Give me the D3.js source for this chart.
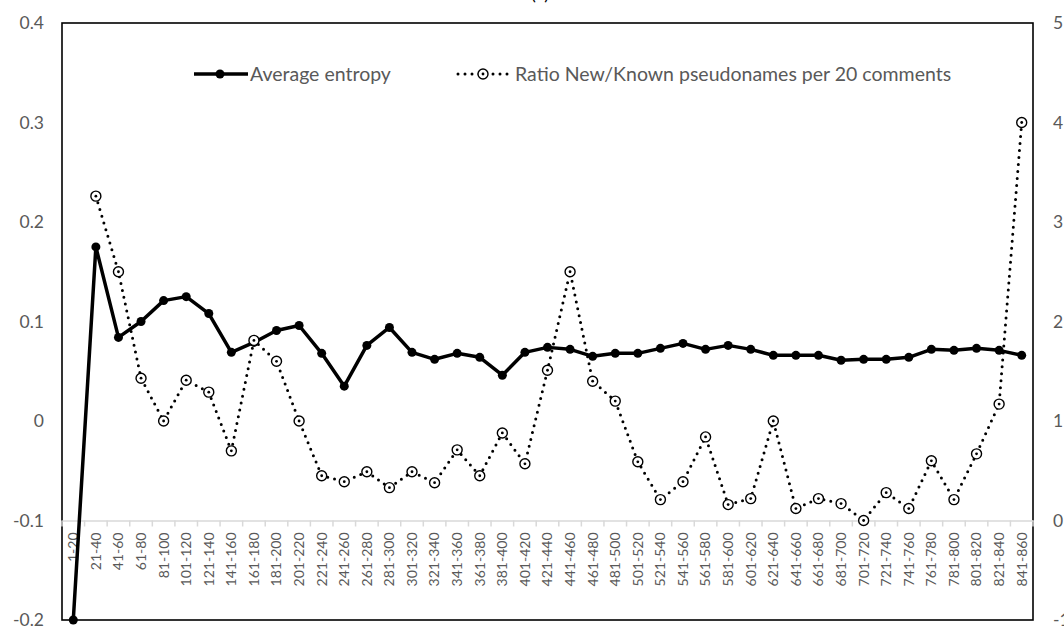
<!DOCTYPE html>
<html><head><meta charset="utf-8">
<script src="https://cdn.jsdelivr.net/npm/d3@7"></script>
<style>
html,body{margin:0;padding:0;background:#fff;}
svg{display:block;font-family:Lato,"Open Sans",sans-serif;}
</style></head>
<body>
<svg id="chart" width="1064" height="633"></svg>
<script>
const categories = ["1-20","21-40","41-60","61-80","81-100","101-120","121-140","141-160","161-180","181-200",
"201-220","221-240","241-260","261-280","281-300","301-320","321-340","341-360","361-380","381-400",
"401-420","421-440","441-460","461-480","481-500","501-520","521-540","541-560","561-580","581-600",
"601-620","621-640","641-660","661-680","681-700","701-720","721-740","741-760","761-780","781-800",
"801-820","821-840","841-860"];
const entropy = [-0.2,0.175,0.084,0.100,0.121,0.125,0.108,0.069,0.079,0.091,
0.096,0.068,0.035,0.076,0.094,0.069,0.062,0.068,0.064,0.046,
0.069,0.074,0.072,0.065,0.068,0.068,0.073,0.078,0.072,0.076,
0.072,0.066,0.066,0.066,0.061,0.062,0.062,0.064,0.072,0.071,
0.073,0.071,0.066];
const ratio = [null,3.26,2.50,1.43,1.00,1.41,1.29,0.70,1.81,1.60,
1.00,0.45,0.39,0.49,0.33,0.49,0.38,0.71,0.45,0.88,
0.57,1.51,2.50,1.40,1.20,0.59,0.21,0.39,0.84,0.16,
0.22,1.00,0.12,0.22,0.17,0.00,0.28,0.12,0.60,0.21,
0.67,1.17,4.00];
const leftTicks = [-0.2,-0.1,0,0.1,0.2,0.3,0.4];
const rightTicks = [-1,0,1,2,3,4,5];
const seriesNames = ["Average entropy","Ratio New/Known pseudonames per 20 comments"];
const titleText = "(a)";

const svg = d3.select("#chart");
const L = 62, R = 1033, T = 23, B = 620;
const x = d3.scaleBand().domain(categories).range([L, R]).padding(0);
const yL = d3.scaleLinear().domain([-0.2, 0.4]).range([B, T]);
const yR = d3.scaleLinear().domain([-1, 5]).range([B, T]);
const cx = c => x(c) + x.bandwidth() / 2;
const grey = "#595959";

// title (cut at top, as in the reference)
svg.append("text").attr("x", 540).attr("y", 0).attr("text-anchor", "middle")
  .attr("font-size", 18).attr("fill", "#000").text(titleText);

// frame
svg.append("rect").attr("x", L).attr("y", T).attr("width", R - L).attr("height", B - T)
  .attr("fill", "none").attr("stroke", "#000").attr("stroke-width", 1.6);

// left axis
const gl = svg.append("g").attr("transform", `translate(${L},0)`)
  .call(d3.axisLeft(yL).tickValues(leftTicks).tickSize(0).tickPadding(18)
    .tickFormat(d => d === 0 ? "0" : d.toFixed(1)));
gl.select(".domain").remove();
gl.selectAll("text").attr("fill", grey).attr("font-size", 17.5).attr("font-family", "Lato, sans-serif");

// right axis
const gr = svg.append("g").attr("transform", `translate(${R},0)`)
  .call(d3.axisRight(yR).tickValues(rightTicks).tickSize(0).tickPadding(20)
    .tickFormat(d => String(d)));
gr.select(".domain").remove();
gr.selectAll("text").attr("fill", grey).attr("font-size", 17.5).attr("font-family", "Lato, sans-serif");

// category axis crossing at -0.1
const ax = yL(-0.1);
const gx = svg.append("g").attr("transform", `translate(0,${ax})`)
  .call(d3.axisBottom(x).tickSize(0).tickPadding(0));
gx.select(".domain").attr("stroke", "#d9d9d9").attr("stroke-width", 1.5);
gx.selectAll("text")
  .attr("transform", "rotate(-90)")
  .attr("x", -12).attr("y", 0).attr("dy", "0.35em")
  .style("text-anchor", "end")
  .attr("fill", grey).attr("font-size", 14).attr("font-family", "Lato, sans-serif");
const bounds = categories.map(c => x(c)).concat([x(categories[categories.length - 1]) + x.bandwidth()]);
svg.append("g").selectAll("line").data(bounds).join("line")
  .attr("x1", d => d).attr("x2", d => d).attr("y1", ax).attr("y2", ax + 6)
  .attr("stroke", "#d9d9d9").attr("stroke-width", 1.5);

// entropy series
const lineE = d3.line().x((d, i) => cx(categories[i])).y(d => yL(d));
svg.append("path").datum(entropy).attr("d", lineE)
  .attr("fill", "none").attr("stroke", "#000").attr("stroke-width", 3.5).attr("stroke-linejoin", "round");
svg.append("g").selectAll("circle").data(entropy).join("circle")
  .attr("cx", (d, i) => cx(categories[i])).attr("cy", d => yL(d)).attr("r", 4.5).attr("fill", "#000");

// ratio series
const lineR = d3.line().defined(d => d !== null).x((d, i) => cx(categories[i])).y(d => yR(d));
svg.append("path").datum(ratio).attr("d", lineR)
  .attr("fill", "none").attr("stroke", "#000").attr("stroke-width", 3)
  .attr("stroke-linecap", "round").attr("stroke-dasharray", "0 7");
const rp = ratio.map((v, i) => ({v, c: categories[i]})).filter(d => d.v !== null);
const mk = svg.append("g").selectAll("g").data(rp).join("g")
  .attr("transform", d => `translate(${cx(d.c)},${yR(d.v)})`);
mk.append("circle").attr("r", 5).attr("fill", "#fff").attr("stroke", "#000").attr("stroke-width", 1.4);
mk.append("circle").attr("r", 1.4).attr("fill", "#000");

// legend
const lg = svg.append("g").attr("font-family", "Lato, sans-serif").attr("font-size", 19.5).attr("fill", grey);
lg.append("line").attr("x1", 194).attr("x2", 248).attr("y1", 74).attr("y2", 74)
  .attr("stroke", "#000").attr("stroke-width", 3.5);
lg.append("circle").attr("cx", 220).attr("cy", 74).attr("r", 4.5).attr("fill", "#000");
lg.append("text").attr("x", 250).attr("y", 74).attr("dy", "0.35em").text(seriesNames[0]);
lg.append("line").attr("x1", 458).attr("x2", 508).attr("y1", 74).attr("y2", 74)
  .attr("stroke", "#000").attr("stroke-width", 3).attr("stroke-linecap", "round").attr("stroke-dasharray", "0 7");
lg.append("circle").attr("cx", 483).attr("cy", 74).attr("r", 5).attr("fill", "#fff").attr("stroke", "#000").attr("stroke-width", 1.4);
lg.append("circle").attr("cx", 483).attr("cy", 74).attr("r", 1.4).attr("fill", "#000");
lg.append("text").attr("x", 515).attr("y", 74).attr("dy", "0.35em").text(seriesNames[1]);
</script>
</body></html>
